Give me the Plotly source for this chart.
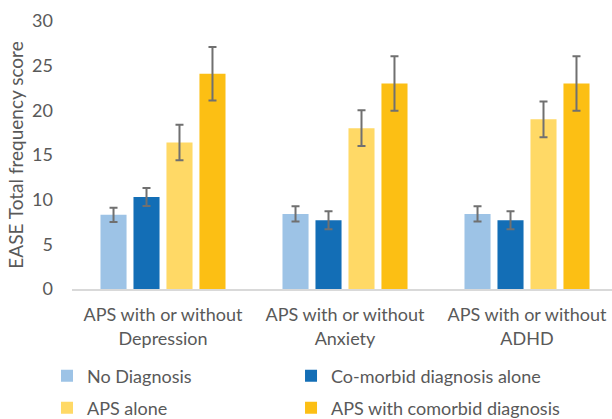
import plotly.graph_objects as go

# Comparison groups along the x axis
categories = ["APS with or without<br>Depression",
              "APS with or without<br>Anxiety",
              "APS with or without<br>ADHD"]

# Mean EASE total frequency score per group, with error half-widths
no_diagnosis = [8.3, 8.4, 8.4]
no_diagnosis_err = [0.8, 0.85, 0.85]
comorbid_alone = [10.3, 7.7, 7.7]
comorbid_alone_err = [1.0, 1.0, 1.0]
aps_alone = [16.4, 18.0, 19.0]
aps_alone_err = [2.0, 2.0, 2.0]
aps_comorbid = [24.1, 23.0, 23.0]
aps_comorbid_err = [3.0, 3.05, 3.05]

# (name, values, errors, colour, legend id)
series = [
    ("No Diagnosis", no_diagnosis, no_diagnosis_err, "#9dc3e6", "legend"),
    ("Co-morbid diagnosis alone", comorbid_alone, comorbid_alone_err, "#136eb6", "legend2"),
    ("APS alone", aps_alone, aps_alone_err, "#ffd966", "legend3"),
    ("APS with comorbid diagnosis", aps_comorbid, aps_comorbid_err, "#fcbf14", "legend4"),
]

FONT = "Lato, Calibri, Carlito, sans-serif"
TEXT = "#595959"

fig = go.Figure()
for name, vals, errs, color, leg in series:
    fig.add_trace(go.Bar(
        name=name,
        x=list(range(len(categories))),
        y=vals,
        legend=leg,
        marker=dict(color=color, line=dict(width=0)),
        error_y=dict(type="data", array=errs, visible=True,
                     color="#707070", thickness=2, width=4),
    ))

legend_style = dict(
    orientation="h", xanchor="left", yanchor="middle",
    font=dict(size=18, color=TEXT),
    itemclick=False, itemdoubleclick=False,
    bgcolor="rgba(0,0,0,0)",
)

# Legend in a 2x2 grid below the axis (x/y in paper units)
col1, col2 = -0.0463, 0.4056
row1, row2 = -0.3246, -0.444

fig.update_layout(
    width=612, height=419,
    margin=dict(l=72, r=0, t=21, b=130, autoexpand=False),
    paper_bgcolor="white", plot_bgcolor="white",
    barmode="group", bargap=0.275, bargroupgap=0.21,
    font=dict(family=FONT, color=TEXT, size=18),
    showlegend=True,
    legend=dict(x=col1, y=row1, **legend_style),
    legend2=dict(x=col2, y=row1, **legend_style),
    legend3=dict(x=col1, y=row2, **legend_style),
    legend4=dict(x=col2, y=row2, **legend_style),
)

fig.update_xaxes(
    tickmode="array",
    tickvals=list(range(len(categories))),
    ticktext=categories,
    range=[-0.5, 2.467],
    showline=True, linecolor="#d9d9d9", linewidth=1.5,
    showgrid=False, zeroline=False, ticks="",
    ticklabelstandoff=9,
    tickfont=dict(size=18, color=TEXT),
)
fig.update_yaxes(
    range=[0, 30], dtick=5,
    showgrid=False, zeroline=False, showline=False, ticks="",
    ticklabelstandoff=18,
    tickfont=dict(size=18, color=TEXT),
    title=dict(text="EASE Total frequency score", font=dict(size=19, color=TEXT), standoff=3),
)

fig.write_html("out.html")
